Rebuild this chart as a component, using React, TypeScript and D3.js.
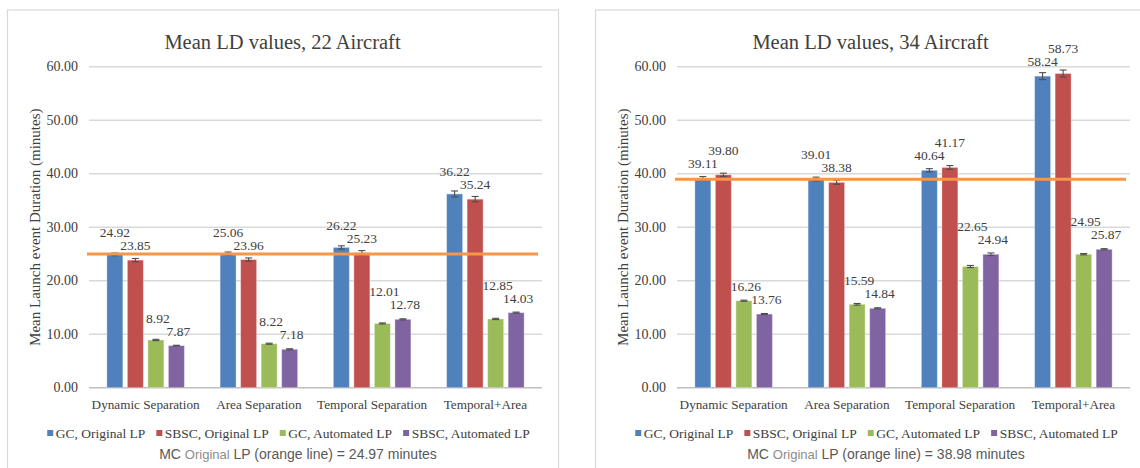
import React, { useEffect, useRef } from "react";
import * as d3 from "d3";

const categories = ["Dynamic Separation", "Area Separation", "Temporal Separation", "Temporal+Area"];
const seriesNames = ["GC, Original LP", "SBSC, Original LP", "GC, Automated LP", "SBSC, Automated LP"];
const seriesColors = ["#4F81BD", "#C0504D", "#9BBB59", "#8064A2"];
const yTicks = [0, 10, 20, 30, 40, 50, 60];

// 22 aircraft
const gcOriginal22 = [24.92, 25.06, 26.22, 36.22];
const sbscOriginal22 = [23.85, 23.96, 25.23, 35.24];
const gcAutomated22 = [8.92, 8.22, 12.01, 12.85];
const sbscAutomated22 = [7.87, 7.18, 12.78, 14.03];
const gcOriginal22Err = [0.25, 0.3, 0.3, 0.55];
const sbscOriginal22Err = [0.3, 0.3, 0.4, 0.5];
const gcAutomated22Err = [0.12, 0.1, 0.1, 0.12];
const sbscAutomated22Err = [0.06, 0.1, 0.1, 0.1];
const mcOriginal22 = 24.97;

// 34 aircraft
const gcOriginal34 = [39.11, 39.01, 40.64, 58.24];
const sbscOriginal34 = [39.8, 38.38, 41.17, 58.73];
const gcAutomated34 = [16.26, 15.59, 22.65, 24.95];
const sbscAutomated34 = [13.76, 14.84, 24.94, 25.87];
const gcOriginal34Err = [0.35, 0.35, 0.3, 0.65];
const sbscOriginal34Err = [0.3, 0.35, 0.35, 0.65];
const gcAutomated34Err = [0.1, 0.15, 0.2, 0.12];
const sbscAutomated34Err = [0.1, 0.1, 0.25, 0.12];
const mcOriginal34 = 38.98;

const panels = [
  {
    title: "Mean LD values, 22 Aircraft",
    values: [gcOriginal22, sbscOriginal22, gcAutomated22, sbscAutomated22],
    errors: [gcOriginal22Err, sbscOriginal22Err, gcAutomated22Err, sbscAutomated22Err],
    mc: mcOriginal22,
  },
  {
    title: "Mean LD values, 34 Aircraft",
    values: [gcOriginal34, sbscOriginal34, gcAutomated34, sbscAutomated34],
    errors: [gcOriginal34Err, sbscOriginal34Err, gcAutomated34Err, sbscAutomated34Err],
    mc: mcOriginal34,
  },
];

const W = 1140;
const H = 468;
const SERIF = "'Liberation Serif', 'Times New Roman', serif";
const SANS = "'Liberation Sans', Arial, sans-serif";
const TEXT = "#404040";

export default function App() {
  const ref = useRef<SVGSVGElement | null>(null);

  useEffect(() => {
    const svg = d3.select(ref.current);
    svg.selectAll("*").remove();

    const panelXs = [7, 595];
    const panelW = 551;
    const top = 9.5;

    panels.forEach((p, pi) => {
      const px = panelXs[pi];
      const g = svg.append("g");

      g.append("rect")
        .attr("x", px + 0.5)
        .attr("y", top + 0.5)
        .attr("width", panelW)
        .attr("height", H)
        .attr("fill", "#fff")
        .attr("stroke", "#d9d9d9")
        .attr("stroke-width", 1.2);

      const x0 = px + 82;
      const plotW = 453;
      const y = d3.scaleLinear().domain([0, 60]).range([387.7, 66.7]);
      const x = d3.scaleBand<string>().domain(categories).range([x0, x0 + plotW]).padding(0);
      const xs = d3
        .scaleBand<number>()
        .domain(d3.range(seriesNames.length))
        .range([0, x.bandwidth()])
        .paddingInner(0.22)
        .paddingOuter(0.87);

      // title
      g.append("text")
        .attr("x", px + 275.5)
        .attr("y", 48.5)
        .attr("text-anchor", "middle")
        .attr("font-family", SERIF)
        .attr("font-size", 20.5)
        .attr("fill", TEXT)
        .text(p.title);

      // grid
      yTicks.forEach((t) => {
        g.append("line")
          .attr("x1", x0)
          .attr("x2", x0 + plotW)
          .attr("y1", y(t))
          .attr("y2", y(t))
          .attr("stroke", t === 0 ? "#bfbfbf" : "#d9d9d9")
          .attr("stroke-width", 1.4);
        g.append("text")
          .attr("x", px + 71)
          .attr("y", y(t) + 4.5)
          .attr("text-anchor", "end")
          .attr("font-family", SERIF)
          .attr("font-size", 14)
          .attr("fill", TEXT)
          .text(d3.format(".2f")(t));
      });

      // y axis title
      g.append("text")
        .attr("transform", `translate(${px + 33},${(y(0) + y(60)) / 2}) rotate(-90)`)
        .attr("text-anchor", "middle")
        .attr("font-family", SERIF)
        .attr("font-size", 15)
        .attr("fill", TEXT)
        .text("Mean Launch event Duration (minutes)");

      // bars
      p.values.forEach((vals, si) => {
        vals.forEach((v, ci) => {
          const bx = (x(categories[ci]) as number) + (xs(si) as number);
          g.append("rect")
            .attr("x", bx)
            .attr("y", y(v))
            .attr("width", xs.bandwidth())
            .attr("height", y(0) - y(v))
            .attr("fill", seriesColors[si])
            .attr("stroke", "rgba(255,255,255,0.35)")
            .attr("stroke-width", 1);
          // error bar
          const e = p.errors[si][ci];
          const cx = bx + xs.bandwidth() / 2;
          const eg = g.append("g").attr("stroke", "#4d4d4d").attr("stroke-width", 1.1);
          eg.append("line").attr("x1", cx).attr("x2", cx).attr("y1", y(v + e)).attr("y2", y(v - e));
          eg.append("line").attr("x1", cx - 3.5).attr("x2", cx + 3.5).attr("y1", y(v + e)).attr("y2", y(v + e));
          eg.append("line").attr("x1", cx - 3.5).attr("x2", cx + 3.5).attr("y1", y(v - e)).attr("y2", y(v - e));
        });
      });

      // value labels (paired, staggered to avoid overlap)
      categories.forEach((c, ci) => {
        const base = p.values.map((vals) => y(vals[ci]) - 10);
        const labelY = base.slice();
        [[0, 1], [2, 3]].forEach(([a, b], pairIdx) => {
          const lifted =
            pairIdx === 0 ? (p.values[a][ci] >= p.values[b][ci] ? a : b) : a;
          const other = lifted === a ? b : a;
          labelY[lifted] = Math.min(base[lifted], base[other] - 13);
        });
        p.values.forEach((vals, si) => {
          const bx = (x(c) as number) + (xs(si) as number) + xs.bandwidth() / 2;
          g.append("text")
            .attr("x", bx + (si >= 2 ? 2 : 0))
            .attr("y", labelY[si])
            .attr("text-anchor", "middle")
            .attr("font-family", SERIF)
            .attr("font-size", 13.5)
            .attr("fill", TEXT)
            .text(d3.format(".2f")(vals[ci]));
        });
      });

      // orange MC line
      g.append("line")
        .attr("x1", x0 - 2)
        .attr("x2", x0 + plotW - 4)
        .attr("y1", y(p.mc))
        .attr("y2", y(p.mc))
        .attr("stroke", "#F79646")
        .attr("stroke-width", 3);

      // category labels
      categories.forEach((c) => {
        g.append("text")
          .attr("x", (x(c) as number) + x.bandwidth() / 2)
          .attr("y", 409)
          .attr("text-anchor", "middle")
          .attr("font-family", SERIF)
          .attr("font-size", 13.2)
          .attr("fill", TEXT)
          .text(c);
      });

      // legend
      const lg = g.append("g");
      let cur = 0;
      seriesNames.forEach((name, si) => {
        const it = lg.append("g");
        it.append("rect")
          .attr("x", cur)
          .attr("y", 430)
          .attr("width", 6)
          .attr("height", 6)
          .attr("fill", seriesColors[si]);
        const t = it
          .append("text")
          .attr("x", cur + 8.5)
          .attr("y", 438)
          .attr("font-family", SERIF)
          .attr("font-size", 13.5)
          .attr("fill", TEXT)
          .text(name);
        const w = (t.node() as SVGTextElement).getComputedTextLength();
        cur += 8.5 + w + (si < seriesNames.length - 1 ? 11 : 0);
      });
      lg.attr("transform", `translate(${px + 281.5 - cur / 2},0)`);

      // footer
      const ft = g
        .append("text")
        .attr("x", px + 291)
        .attr("y", 459)
        .attr("text-anchor", "middle")
        .attr("font-family", SANS)
        .attr("font-size", 14)
        .attr("fill", "#595959");
      ft.append("tspan").text("MC ");
      ft.append("tspan").attr("fill", "#8c8c8c").attr("font-size", 13).text("Original");
      ft.append("tspan").text(` LP (orange line) = ${d3.format(".2f")(p.mc)} minutes`);
    });
  }, []);

  return (
    <svg
      ref={ref}
      width={W}
      height={H}
      viewBox={`0 0 ${W} ${H}`}
      style={{ position: "absolute", left: 0, top: 0, background: "#fff", display: "block" }}
    />
  );
}
